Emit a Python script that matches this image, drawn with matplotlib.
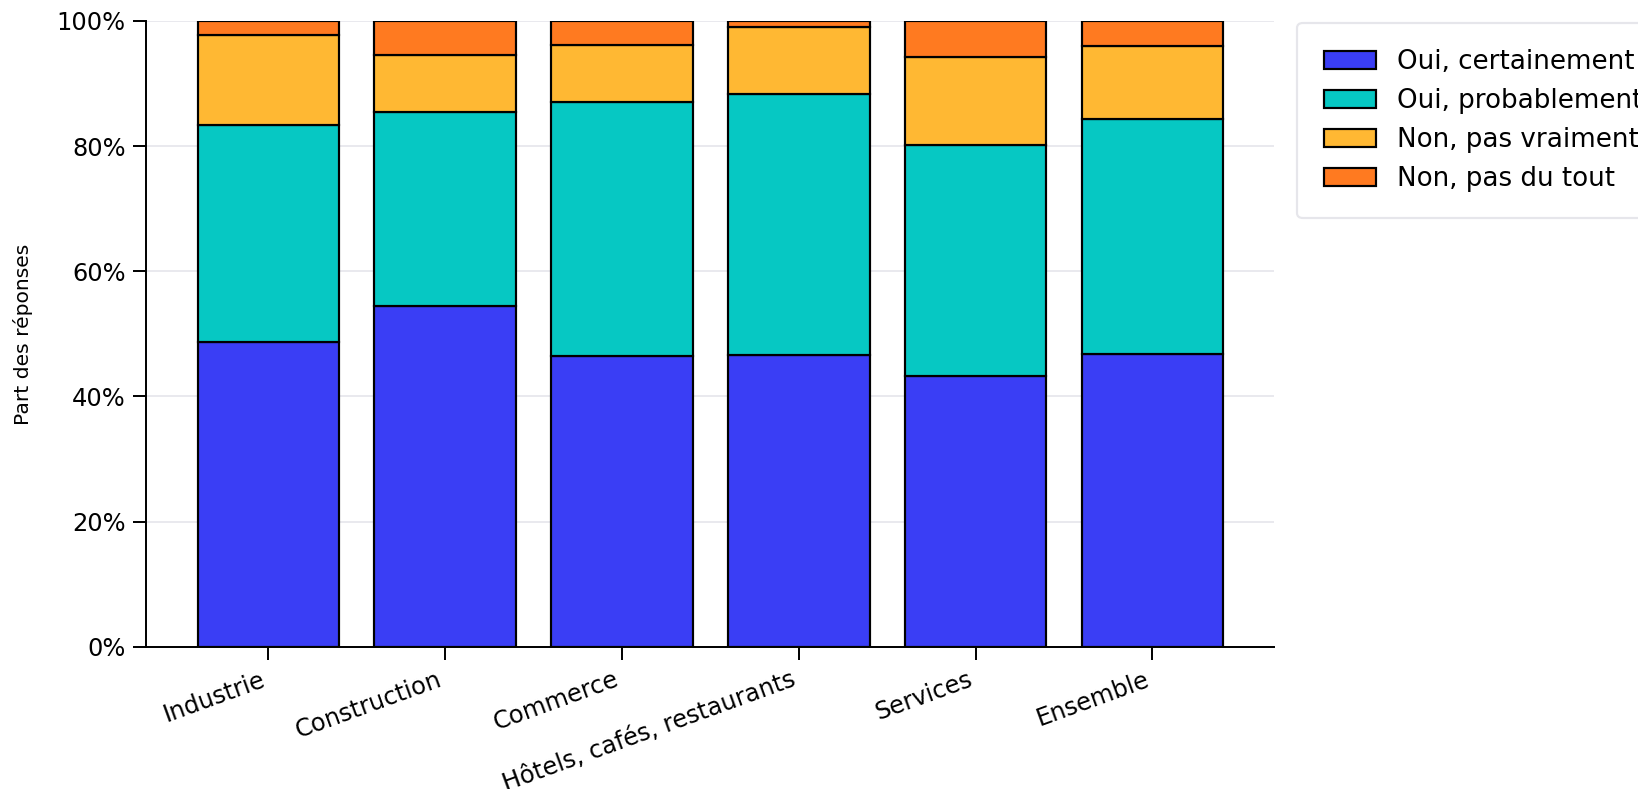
import matplotlib
matplotlib.use("Agg")
import matplotlib.pyplot as plt
import numpy as np
from matplotlib.ticker import PercentFormatter

categories = ["Industrie", "Construction", "Commerce", "Hôtels, cafés, restaurants", "Services", "Ensemble"]
series_names = ["Oui, certainement", "Oui, probablement", "Non, pas vraiment", "Non, pas du tout"]
oui_certainement = [48.7, 54.5, 46.4, 46.7, 43.2, 46.8]
oui_probablement = [34.6, 31.0, 40.6, 41.6, 36.9, 37.6]
non_pas_vraiment = [14.4, 9.0, 9.1, 10.7, 14.2, 11.6]
non_pas_du_tout = [2.3, 5.5, 3.9, 1.0, 5.7, 4.0]
colors = ["#3A3EF5", "#06C8C3", "#FFB833", "#FF7A20"]

series = [oui_certainement, oui_probablement, non_pas_vraiment, non_pas_du_tout]

W, H = 1638, 789
DPI = 150 * 1638 / 1568
fig = plt.figure(figsize=(W / DPI, H / DPI), dpi=DPI)
# layout in a 1568x755 frame
fw, fh = 1568, 755
ax = fig.add_axes([140 / fw, 1 - 619 / fh, (1220 - 140) / fw, (619 - 20) / fh])

x = np.arange(len(categories))
bottom = np.zeros(len(categories))
for name, vals, col in zip(series_names, series, colors):
    vals = np.array(vals)
    ax.bar(x, vals, width=0.8, bottom=bottom, color=col, edgecolor="black",
           linewidth=1.0, label=name, zorder=3)
    bottom += vals

ax.set_ylim(0, 100)
ax.set_yticks([0, 20, 40, 60, 80, 100])
ax.yaxis.set_major_formatter(PercentFormatter(decimals=0))
ax.set_xticks(x)
ax.set_xticklabels(categories, rotation=20, ha="right", fontsize=11.1)
ax.tick_params(axis="y", labelsize=11.1, length=6, width=0.9)
ax.tick_params(axis="x", length=6, width=0.9)
ax.set_ylabel("Part des réponses", fontsize=9.3, labelpad=11)
ax.grid(axis="y", color="#e6e6ec", linewidth=0.8, zorder=0)
ax.set_axisbelow(True)
for s in ["top", "right"]:
    ax.spines[s].set_visible(False)
for s in ["left", "bottom"]:
    ax.spines[s].set_linewidth(0.9)

leg = ax.legend(loc="upper left", bbox_to_anchor=(1.0204, 0.997), borderaxespad=0,
                fontsize=12, frameon=True, fancybox=True, borderpad=1.0)
leg.get_frame().set_edgecolor("#e0e0e6")

fig.savefig("out.png", dpi=DPI)
